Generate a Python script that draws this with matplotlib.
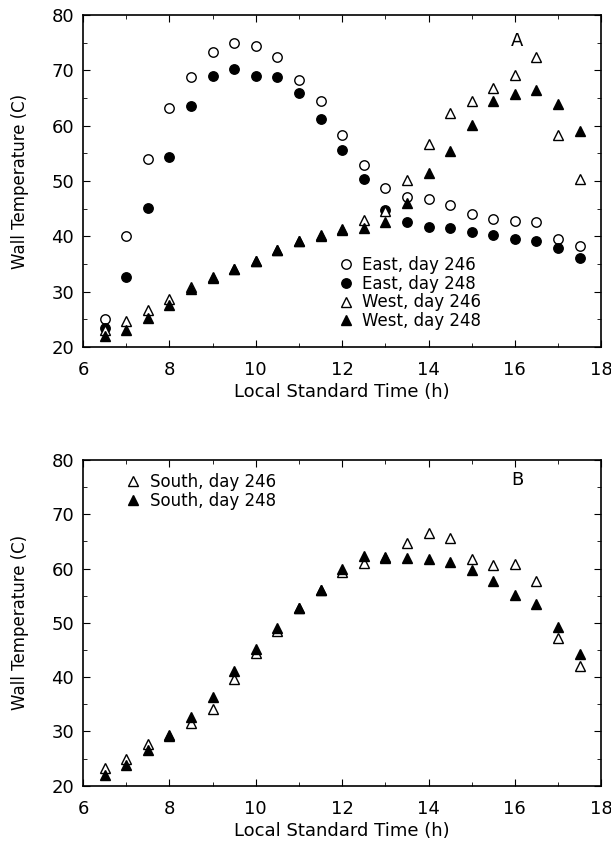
import numpy as np
from matplotlib import pyplot as plt

# hours of the day
hours = [6.5, 7, 7.5, 8, 8.5, 9, 9.5, 10, 10.5, 11, 11.5, 12,
         12.5, 13, 13.5, 14, 14.5, 15, 15.5, 16, 16.5, 17, 17.5]

# panel A
east_246 = [25, 40, 53.9, 63.3, 68.9, 73.4, 74.9, 74.5, 72.5, 68.3, 64.5, 58.3,
            52.9, 48.7, 47.2, 46.7, 45.7, 44, 43.1, 42.7, 42.6, 39.5, 38.2]
east_248 = [23.4, 32.6, 45.1, 54.4, 63.5, 69, 70.3, 69, 68.9, 66, 61.3, 55.6,
            50.4, 44.8, 42.5, 41.6, 41.5, 40.7, 40.3, 39.5, 39.2, 37.9, 36.1]
west_246 = [23, 24.6, 26.7, 28.6, 30.8, 32.6, 34, 35.6, 37.6, 39.1, 40.2, 41.3,
            43, 44.5, 50.1, 56.7, 62.3, 64.5, 66.8, 69.2, 72.5, 58.4, 50.4]
west_248 = [22, 23.1, 25.3, 27.5, 30.5, 32.5, 34, 35.5, 37.6, 39.1, 40.1, 41.2,
            41.5, 42.5, 46.1, 51.4, 55.5, 60.1, 64.5, 65.7, 66.5, 63.9, 59]

# panel B
south_246 = [23.3, 25, 27.6, 29.2, 31.5, 34.1, 39.6, 44.5, 48.5, 52.8, 56, 59.4,
             61, 62, 64.7, 66.5, 65.6, 61.8, 60.6, 60.9, 57.7, 47.3, 42.1]
south_248 = [22, 23.8, 26.5, 29.3, 32.6, 36.4, 41.2, 45.2, 49.1, 52.8, 56.1, 60,
             62.3, 62.1, 62, 61.7, 61.3, 59.8, 57.7, 55.1, 53.5, 49.2, 44.3]

plt.rcParams['font.family'] = ['DejaVu Sans']

fig = plt.figure(figsize=(6.11, 8.44), dpi=100)
ax1 = fig.add_axes([0.136, 0.589, 0.848, 0.393])
ax2 = fig.add_axes([0.136, 0.069, 0.848, 0.386])

ms = 6.8
ax1.plot(hours, east_246, 'o', mfc='white', mec='black', mew=1.0, ms=ms, label='East, day 246')
ax1.plot(hours, east_248, 'o', mfc='black', mec='black', ms=ms, label='East, day 248')
ax1.plot(hours, west_246, '^', mfc='white', mec='black', mew=1.0, ms=ms, label='West, day 246')
ax1.plot(hours, west_248, '^', mfc='black', mec='black', ms=ms, label='West, day 248')
ax1.text(16.05, 75.3, 'A', fontsize=13, ha='center', va='center')
ax1.legend(loc='lower left', bbox_to_anchor=(0.465, 0.015), frameon=False, fontsize=12,
           handletextpad=0.4, labelspacing=0.05, handlelength=1.2, borderpad=0.2)

ax2.plot(hours, south_246, '^', mfc='white', mec='black', mew=1.0, ms=ms, label='South, day 246')
ax2.plot(hours, south_248, '^', mfc='black', mec='black', ms=ms, label='South, day 248')
ax2.text(16.05, 76.4, 'B', fontsize=13, ha='center', va='center')
ax2.legend(loc='upper left', bbox_to_anchor=(0.055, 0.995), frameon=False, fontsize=12,
           handletextpad=0.4, labelspacing=0.05, handlelength=1.2, borderpad=0.2)

for ax in (ax1, ax2):
    ax.set_xlim(6, 18)
    ax.set_ylim(20, 80)
    ax.set_xticks(np.arange(6, 19, 2))
    ax.set_xticks(np.arange(6, 19, 1), minor=True)
    ax.set_yticks(np.arange(20, 81, 10))
    ax.set_yticks(np.arange(20, 81, 5), minor=True)
    ax.tick_params(which='both', direction='in', top=True, right=True, labelsize=13)
    ax.tick_params(which='major', length=5)
    ax.tick_params(which='minor', length=3)
    ax.tick_params(axis='x', which='major', pad=10)
    ax.tick_params(axis='y', which='major', pad=6.5)
    ax.set_xlabel('Local Standard Time (h)', fontsize=13, labelpad=3)
    ax.set_ylabel('Wall Temperature (C)', fontsize=12, labelpad=16)
    for s in ax.spines.values():
        s.set_linewidth(1.2)

fig.savefig('out.png', dpi=100)
